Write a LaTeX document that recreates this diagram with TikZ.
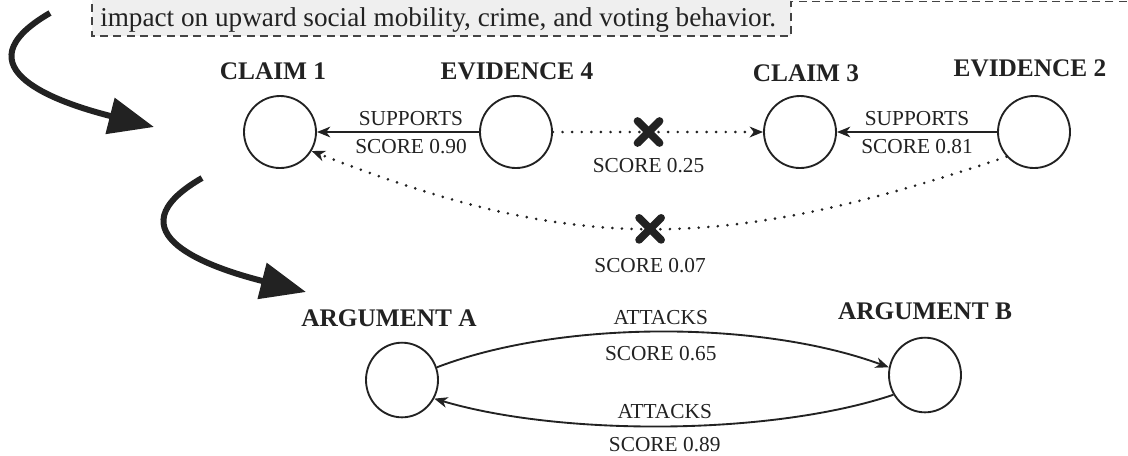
\documentclass[tikz,border=0pt]{standalone}
\usepackage{fontspec}
\setmainfont{Liberation Serif}
\usetikzlibrary{arrows.meta,shapes.geometric}
\definecolor{ink}{HTML}{222222}
\definecolor{boxfill}{HTML}{EFEFEF}
\definecolor{dashc}{HTML}{444444}
\begin{document}
\begin{tikzpicture}[x=0.75pt,y=-0.75pt,
  circnode/.style={circle,draw=ink,line width=1.4pt,minimum size=54pt,inner sep=0pt},
  ovalnode/.style={ellipse,draw=ink,line width=1.4pt,minimum width=54pt,minimum height=56pt,inner sep=0pt},
  titlelbl/.style={font=\fontsize{19}{22}\selectfont\bfseries,text=ink,inner sep=0pt},
  elabel/.style={font=\fontsize{16}{19}\selectfont,text=ink,inner sep=0pt},
  solidedge/.style={draw=ink,line width=1.4pt,-{Stealth[length=10pt,width=8pt,inset=3pt]}},
  dotedge/.style={draw=ink,line width=2.2pt,line cap=round,dash pattern=on 0pt off 7.2pt,-{Stealth[length=10pt,width=8pt,inset=3pt]}},
  bigarrow/.style={draw=ink,line width=4.5pt,-{Triangle[length=34pt,width=27pt]}},
  xmark/.style={draw=ink,line width=5.8pt,line cap=round},
]
\useasboundingbox (0,0) rectangle (1128,455);

% text box (cut off at the top)
\fill[boxfill] (92,-5) rectangle (791,36);
\draw[dashc,line width=1.3pt,dash pattern=on 6pt off 4pt] (1140,1.5) -- (791,1.5) -- (791,36) -- (92,36) -- (92,-5);
\node[anchor=base west,font=\fontsize{20.4}{24}\selectfont,text=ink,inner sep=0pt] (boxtext) at (100,26)
  {impact on upward social mobility, crime, and voting behavior.};

% big curved arrows
\coordinate (a1s) at (50,13);
\coordinate (a1e) at (154,127);
\draw[bigarrow] (a1s) .. controls +(-95,55) and +(-95,-24) .. (a1e);
\coordinate (a2s) at (202,178);
\coordinate (a2e) at (306,292);
\draw[bigarrow] (a2s) .. controls +(-95,55) and +(-95,-24) .. (a2e);

% top row nodes
\node[circnode] (c1) at (280,132) {};
\node[circnode] (e4) at (516,132) {};
\node[circnode] (c3) at (800,132) {};
\node[circnode] (e2) at (1034,132) {};
\node[titlelbl] (c1t) at (273,71) {CLAIM 1};
\node[titlelbl] (e4t) at (517,71) {EVIDENCE 4};
\node[titlelbl] (c3t) at (806,73) {CLAIM 3};
\node[titlelbl] (e2t) at (1030,68) {EVIDENCE 2};

% top row edges
\draw[solidedge] (e4) -- (c1)
  node[elabel,pos=0.42,above=4pt] (l1a) {SUPPORTS}
  node[elabel,pos=0.42,below=5pt] (l1b) {SCORE 0.90};
\draw[solidedge] (e2) -- (c3)
  node[elabel,pos=0.5,above=4pt] (l2a) {SUPPORTS}
  node[elabel,pos=0.5,below=5pt] (l2b) {SCORE 0.81};
\draw[dotedge] (e4) -- (c3)
  coordinate[pos=0.455] (x1)
  node[elabel,pos=0.455,below=19pt] (l3) {SCORE 0.25};
\draw[dotedge] (e2.222) .. controls +(-287,97) and +(263,103) .. (c1.-31)
  coordinate[pos=0.5] (x2)
  node[elabel,pos=0.5,below=21pt] (l4) {SCORE 0.07};
\draw[xmark] ([shift={(-11,-11)}]x1) -- ([shift={(11,11)}]x1);
\draw[xmark] ([shift={(-11,11)}]x1) -- ([shift={(11,-11)}]x1);
\draw[xmark] ([shift={(-11,-11)}]x2) -- ([shift={(11,11)}]x2);
\draw[xmark] ([shift={(-11,11)}]x2) -- ([shift={(11,-11)}]x2);

% bottom row
\node[ovalnode] (aa) at (402,380) {};
\node[ovalnode] (ab) at (925,375) {};
\node[titlelbl] (aat) at (389,318) {ARGUMENT A};
\node[titlelbl] (abt) at (925,311) {ARGUMENT B};
\draw[solidedge] (aa.20) .. controls (560,320) and (760,320) .. (ab.168)
  node[elabel,pos=0.5,above=5pt] (l5a) {ATTACKS}
  node[elabel,pos=0.5,below=10pt] (l5b) {SCORE 0.65};
\draw[solidedge] (ab.212) .. controls (770,436) and (560,436) .. (aa.-30)
  node[elabel,pos=0.5,above=5pt] (l6a) {ATTACKS}
  node[elabel,pos=0.5,below=8pt] (l6b) {SCORE 0.89};
\end{tikzpicture}
\end{document}
